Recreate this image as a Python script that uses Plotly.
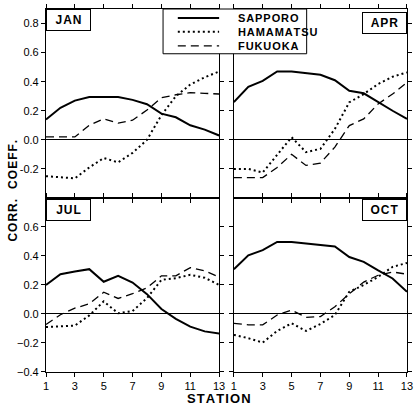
import plotly.graph_objects as go

# ---------------- data ----------------
stations = [1, 2, 3, 4, 5, 6, 7, 8, 9, 10, 11, 12, 13]
series_names = ["SAPPORO", "HAMAMATSU", "FUKUOKA"]
months = ["JAN", "APR", "JUL", "OCT"]

jan_sapporo = [0.14, 0.22, 0.27, 0.295, 0.295, 0.295, 0.275, 0.245, 0.18, 0.155, 0.10, 0.07, 0.03]
jan_hamamatsu = [-0.25, -0.26, -0.265, -0.19, -0.125, -0.155, -0.09, 0.0, 0.17, 0.30, 0.38, 0.43, 0.47]
jan_fukuoka = [0.02, 0.02, 0.02, 0.10, 0.145, 0.115, 0.135, 0.205, 0.29, 0.31, 0.325, 0.32, 0.315]

apr_sapporo = [0.26, 0.365, 0.405, 0.47, 0.47, 0.457, 0.448, 0.41, 0.338, 0.32, 0.258, 0.20, 0.144]
apr_hamamatsu = [-0.20, -0.20, -0.225, -0.107, 0.018, -0.085, -0.062, 0.075, 0.258, 0.315, 0.384, 0.434, 0.464]
apr_fukuoka = [-0.26, -0.26, -0.26, -0.19, -0.10, -0.176, -0.16, -0.05, 0.098, 0.144, 0.247, 0.315, 0.395]

jul_sapporo = [0.20, 0.274, 0.293, 0.309, 0.222, 0.263, 0.217, 0.137, 0.034, -0.034, -0.087, -0.12, -0.135]
jul_hamamatsu = [-0.09, -0.087, -0.08, -0.01, 0.087, 0.005, 0.02, 0.11, 0.235, 0.247, 0.27, 0.25, 0.20]
jul_fukuoka = [-0.073, -0.005, 0.04, 0.07, 0.15, 0.107, 0.14, 0.18, 0.263, 0.263, 0.32, 0.297, 0.255]

oct_sapporo = [0.309, 0.405, 0.44, 0.497, 0.497, 0.485, 0.478, 0.466, 0.393, 0.359, 0.30, 0.245, 0.153]
oct_hamamatsu = [-0.144, -0.167, -0.197, -0.117, -0.064, -0.117, -0.069, -0.007, 0.153, 0.20, 0.256, 0.325, 0.352]
oct_fukuoka = [-0.064, -0.075, -0.075, -0.007, 0.027, -0.023, -0.018, 0.05, 0.14, 0.22, 0.267, 0.29, 0.274]

x_tickvals = [1, 3, 5, 7, 9, 11, 13]
x_ticktext = ["1", "3", "5", "7", "9", "11", "13"]
top_y_tickvals = [-0.2, 0.0, 0.2, 0.4, 0.6, 0.8]
top_y_ticktext = ["-0.2", "0.0", "0.2", "0.4", "0.6", "0.8"]
bot_y_tickvals = [-0.4, -0.2, 0.0, 0.2, 0.4, 0.6]
bot_y_ticktext = ["\u22120.4", "\u22120.2", "0.0", "0.2", "0.4", "0.6"]

panel_data = {
    "JAN": [jan_sapporo, jan_hamamatsu, jan_fukuoka],
    "APR": [apr_sapporo, apr_hamamatsu, apr_fukuoka],
    "JUL": [jul_sapporo, jul_hamamatsu, jul_fukuoka],
    "OCT": [oct_sapporo, oct_hamamatsu, oct_fukuoka],
}

# ---------------- styles ----------------
W, H = 417, 407
ML, MR, MT, MB = 46, 4, 7, 35
PW, PH = W - ML - MR, H - MT - MB

def px_x(p):
    return (p - ML) / PW

def px_y(p):
    return (H - MB - p) / PH

def spaced(s):
    return "\u200a".join(s)

line_styles = [
    dict(color="black", width=2.0, dash="solid"),
    dict(color="black", width=2.0, dash="2px,3px"),
    dict(color="black", width=1.3, dash="8px,5px"),
]

FONT = "Liberation Sans, Arial, sans-serif"
axis_refs = {"JAN": ("x", "y"), "APR": ("x2", "y2"), "JUL": ("x3", "y3"), "OCT": ("x4", "y4")}

fig = go.Figure()
for m in months:
    xr, yr = axis_refs[m]
    for i, name in enumerate(series_names):
        fig.add_trace(go.Scatter(
            x=stations, y=panel_data[m][i], mode="lines", name=name,
            line=line_styles[i], xaxis=xr, yaxis=yr, showlegend=False,
            hoverinfo="skip",
        ))

x_left = [0, px_x(222)]
x_right = [px_x(237), 1]
y_split = px_y(197)
y_top = [y_split, 1]
y_bot = [0, y_split]

common_axis = dict(
    showline=True, linecolor="black", linewidth=1.2, mirror="ticks",
    ticks="outside", ticklen=4, tickwidth=1, tickcolor="black",
    showgrid=False, tickfont=dict(family=FONT, size=11, color="black"),
)

def xaxis(domain, anchor, labels):
    d = dict(common_axis)
    d.update(domain=domain, anchor=anchor, range=[1, 13], tickvals=x_tickvals,
             ticktext=x_ticktext, showticklabels=labels, zeroline=False)
    return d

def yaxis(domain, anchor, rng, tv, tt, labels):
    d = dict(common_axis)
    d.update(domain=domain, anchor=anchor, range=rng, tickvals=tv, ticktext=tt,
             showticklabels=labels, zeroline=True, zerolinecolor="black",
             zerolinewidth=1)
    return d

fig.update_layout(
    width=W, height=H,
    margin=dict(l=ML, r=MR, t=MT, b=MB),
    paper_bgcolor="white", plot_bgcolor="white",
    showlegend=False,
    font=dict(family=FONT, color="black"),
    xaxis=xaxis(x_left, "y", False),
    yaxis=yaxis(y_top, "x", [-0.4, 0.9], top_y_tickvals, top_y_ticktext, True),
    xaxis2=xaxis(x_right, "y2", False),
    yaxis2=yaxis(y_top, "x2", [-0.4, 0.9], top_y_tickvals, top_y_ticktext, False),
    xaxis3=xaxis(x_left, "y3", True),
    yaxis3=yaxis(y_bot, "x3", [-0.4, 0.8], bot_y_tickvals, bot_y_ticktext, True),
    xaxis4=xaxis(x_right, "y4", True),
    yaxis4=yaxis(y_bot, "x4", [-0.4, 0.8], bot_y_tickvals, bot_y_ticktext, False),
)

# panel labels (boxed)
label_pos = {
    "JAN": ("x", "y", 0, "left", 0),
    "APR": ("x2", "y2", 1, "right", -3),
    "JUL": ("x3", "y3", 0, "left", -1),
    "OCT": ("x4", "y4", 1, "right", -1),
}
for m in months:
    xr, yr, xp, xa, ys = label_pos[m]
    fig.add_annotation(
        xref=f"{xr} domain", yref=f"{yr} domain", x=xp, y=1,
        xanchor=xa, yanchor="top", yshift=ys, showarrow=False,
        text=f"<b>{spaced(m)}</b>", font=dict(family=FONT, size=12, color="black"),
        bgcolor="white", bordercolor="black", borderwidth=1,
        width=41, height=18, borderpad=1,
    )

# legend drawn manually
fig.add_shape(type="rect", xref="paper", yref="paper",
              x0=px_x(165), x1=px_x(311), y0=px_y(52), y1=px_y(7),
              line=dict(color="black", width=1), fillcolor="white", layer="above")
rows = [16, 30, 44]
for i, name in enumerate(series_names):
    fig.add_shape(type="line", xref="paper", yref="paper",
                  x0=px_x(180), x1=px_x(222), y0=px_y(rows[i]), y1=px_y(rows[i]),
                  line=line_styles[i], layer="above")
    fig.add_annotation(xref="paper", yref="paper", x=px_x(239), y=px_y(rows[i]),
                       xanchor="left", yanchor="middle", showarrow=False,
                       text=f"<b>{spaced(name)}</b>",
                       font=dict(family=FONT, size=11, color="black"))

# axis titles
fig.add_annotation(xref="paper", yref="paper", x=px_x(12), y=px_y(190),
                   xanchor="center", yanchor="middle", showarrow=False,
                   textangle=-90, text=f"<b>{spaced('CORR.')}   {spaced('COEFF.')}</b>",
                   font=dict(family=FONT, size=12, color="black"))
fig.add_annotation(xref="paper", yref="paper", x=px_x(222), y=px_y(399),
                   xanchor="center", yanchor="middle", showarrow=False,
                   text=f"<b>{spaced('STATION')}</b>",
                   font=dict(family=FONT, size=13, color="black"))

fig.write_html("out.html")
